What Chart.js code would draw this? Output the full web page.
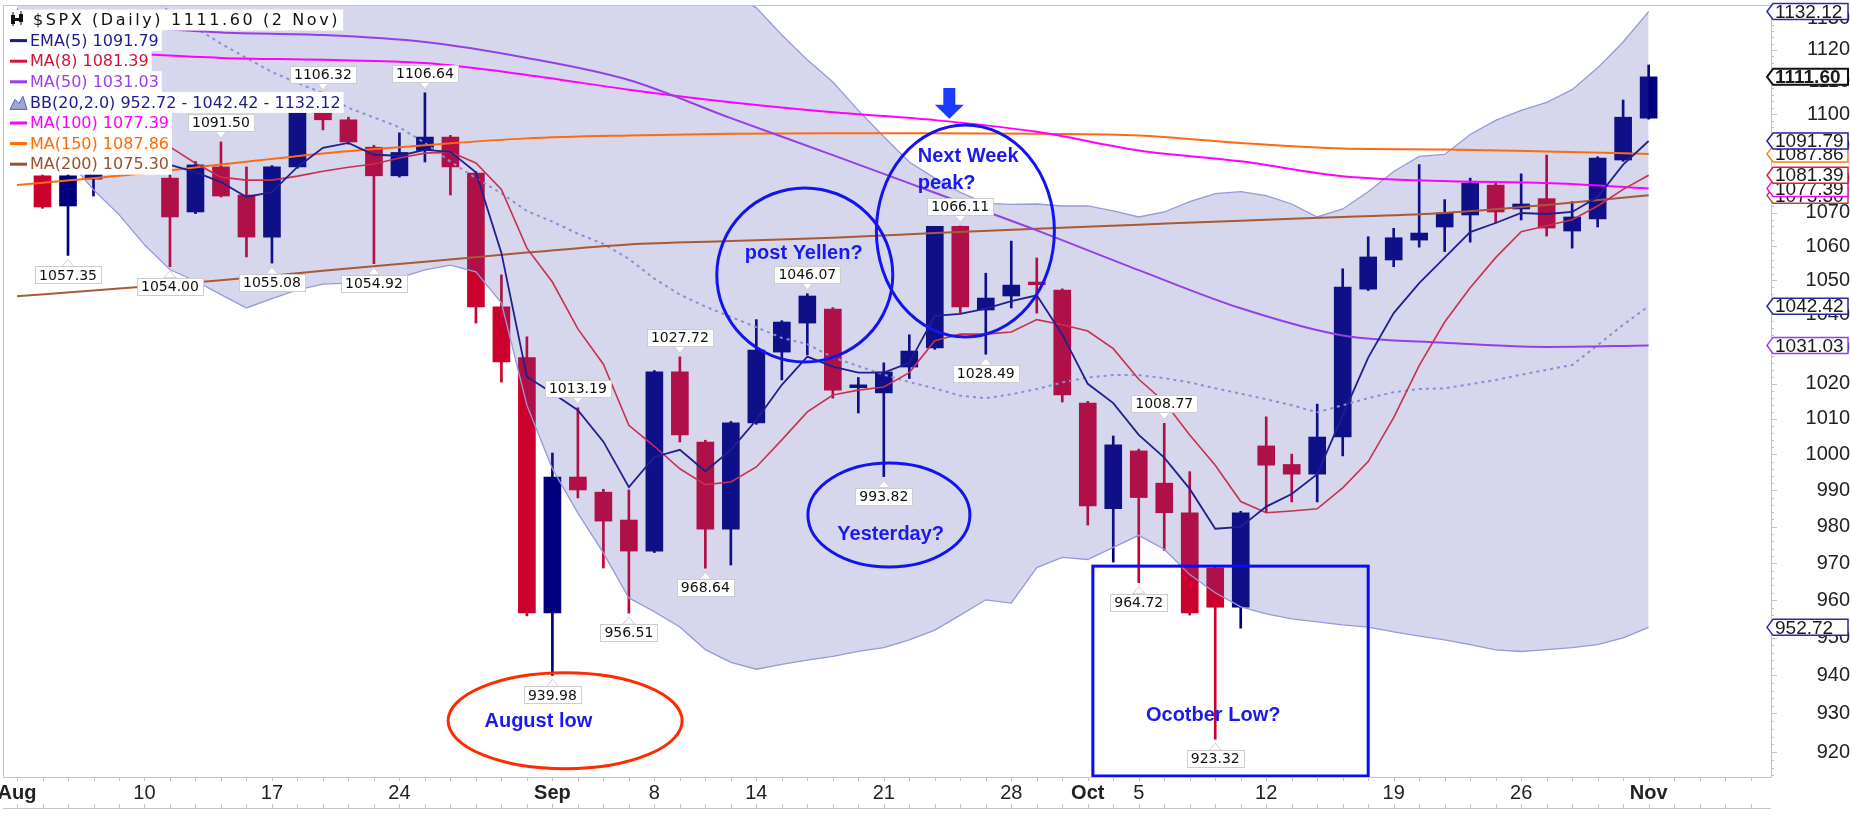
<!DOCTYPE html>
<html>
<head>
<meta charset="utf-8">
<script src="https://cdn.jsdelivr.net/npm/chart.js@4.4.1/dist/chart.umd.min.js"></script>
<style>
  html, body { margin: 0; padding: 0; background: #fff; }
  canvas { display: block; }
</style>
</head>
<body>
<canvas id="chart" width="1850" height="826"></canvas>
<script>
// --- x axis: trading day index 0 = 3 Aug ---
const tickIdx = [0, 5, 10, 15, 21, 25, 29, 34, 39, 42, 44, 49, 54, 59, 64];
const tickLbl = ['Aug', '10', '17', '24', 'Sep', '8', '14', '21', '28', 'Oct', '5', '12', '19', '26', 'Nov'];
const monthLbl = ['Aug', 'Sep', 'Oct', 'Nov'];
const yTicks = [920, 930, 940, 950, 960, 970, 980, 990, 1000, 1010, 1020, 1030, 1040, 1050, 1060, 1070, 1080, 1090, 1100, 1110, 1120, 1130];

// --- daily candles ---
const open = [1090, 1081.2, 1072.1, 1080.2, 1086, 1091, 1080.5, 1070.3, 1083.9, 1075.4,
  1062.8, 1083.9, 1100.5, 1098.3, 1089.9, 1081.2, 1088.9, 1093.0, 1082.0, 1042.2,
  1027.5, 956.6, 993.7, 989.5, 981.8, 973.3, 1023.4, 1003.5, 979.3, 1008.9,
  1029.1, 1037.5, 1041.6, 1018.9, 1017.4, 1024.8, 1030.3, 1066.0, 1041.3, 1045.4,
  1049.5, 1047.1, 1014.5, 984.9, 1001.0, 992.0, 983.8, 968.7, 958.1, 1002.4,
  997.2, 994.5, 1004.9, 1047.4, 1056.0, 1061.9, 1065.8, 1069.4, 1078.4, 1071.2,
  1074.3, 1064.6, 1068.2, 1086.0, 1098.8];
const high = [1093, 1084, 1083, 1083, 1092, 1094, 1083, 1085.5, 1091.50, 1083.9,
  1084.3, 1102, 1106.32, 1099.1, 1090.5, 1094.3, 1106.64, 1093.5, 1082.5, 1051.6,
  1033.5, 1000.4, 1013.19, 990.3, 990.1, 1023.8, 1027.72, 1004, 1009.3, 1038.5,
  1038.2, 1046.07, 1042, 1021.8, 1026.0, 1034.1, 1066.0, 1066.11, 1052.1, 1061.6,
  1056.6, 1047.5, 1015, 1005.2, 1001.5, 1008.77, 995.2, 969, 984.2, 1010.6,
  1000.1, 1014.2, 1053.4, 1062.9, 1065.4, 1084.6, 1074.0, 1080.5, 1079, 1081.8,
  1087.5, 1073.4, 1087, 1104.4, 1115.3];
const low = [1085, 1071.4, 1057.35, 1075.1, 1084, 1086, 1054.00, 1069.8, 1074.8, 1056.9,
  1055.08, 1083.5, 1095.2, 1090.8, 1054.92, 1080.8, 1085.4, 1075.4, 1037.5, 1020.5,
  955.8, 939.98, 987.9, 968.7, 956.51, 972.9, 1003.5, 968.64, 969.5, 1008.5,
  1021.1, 1028.3, 1015.9, 1011.7, 993.82, 1021.5, 1029.9, 1040.4, 1028.49, 1041.9,
  1040.4, 1014.8, 980.4, 970.3, 964.72, 973.5, 956.0, 923.32, 952.5, 983.8,
  986.8, 986.8, 999.6, 1047, 1054.0, 1059.8, 1058.5, 1061.3, 1067.0, 1067.9,
  1063.1, 1059.5, 1065.8, 1085.6, 1098.5];
const close = [1087, 1071.8, 1081.2, 1082.5, 1090, 1088, 1068.8, 1084.5, 1075.1, 1062.8,
  1083.9, 1100.5, 1098.3, 1091.5, 1081.2, 1088.3, 1093.0, 1083.9, 1042.2, 1026.3,
  956.6, 993.7, 990.1, 981.5, 973.3, 1023.4, 1005.5, 979.3, 1008.9, 1029.7,
  1037.8, 1045.4, 1018.2, 1019.7, 1023.4, 1029.4, 1066.0, 1042.2, 1044.8, 1048.6,
  1048.7, 1016.8, 985.7, 1002.7, 988.0, 983.8, 956.6, 958.1, 983.8, 997.0,
  994.5, 1004.9, 1048.0, 1056.9, 1062.6, 1064.0, 1070.0, 1079.0, 1070.3, 1072.7,
  1065.5, 1068.8, 1086.6, 1099.1, 1111.60];

// --- daily indicators ---
const ema5 = [1086, 1084.5, 1083.5, 1083, 1085, 1086, 1084.5, 1082.3, 1079.3, 1074.8,
  1076.3, 1083.9, 1089.7, 1091.2, 1087.6, 1087.3, 1089.1, 1088.5, 1082.3, 1058.1,
  1022.0, 1017.4, 1012.5, 1003.6, 990.9, 999.3, 1001.3, 995.3, 1001.3, 1009.7,
  1019.7, 1027.8, 1024.9, 1023.2, 1023.2, 1026.0, 1039.6, 1040.2, 1041.7, 1043.9,
  1045.6, 1034.2, 1020.0, 1014.5, 1005.5, 999.1, 990.4, 979.4, 979.9, 985.5,
  989.0, 994.5, 1011.0, 1027.5, 1040.4, 1049.2, 1056.7, 1064.3, 1067.0, 1070.0,
  1069.7, 1070.3, 1074.8, 1084.6, 1091.79];
const ma8 = [1133, 1120, 1110, 1102, 1097, 1094, 1090, 1085, 1080.8, 1079.9,
  1079.9, 1081.1, 1082.6, 1083.8, 1084.8, 1086.6, 1088.1, 1088.4, 1085.1, 1077.1,
  1059.5, 1049.5, 1035.8, 1025.6, 1008.2, 1002.3, 996.0, 991.6, 992.3, 996.5,
  1004.1, 1012.0, 1016.8, 1018.2, 1019.1, 1023.2, 1032.4, 1034.3, 1034.3, 1034.9,
  1038.5, 1037.0, 1035.2, 1030.1, 1021.3, 1014.9, 1005.5, 997.0, 986.9, 983.8,
  984.3, 984.9, 990.7, 998.0, 1010.4, 1025.2, 1037.8, 1047.8, 1056.7, 1064.4,
  1066.2, 1068.0, 1072.1, 1077.1, 1081.39];
const bbUp = [1175, 1180, 1185, 1190, 1195, 1200, 1205, 1200, 1195, 1190,
  1185, 1178, 1172, 1166, 1160, 1155, 1152, 1150, 1149, 1148,
  1147, 1147, 1146, 1146, 1145, 1144, 1143, 1141, 1138, 1133.3,
  1124.7, 1116.9, 1110.0, 1101.2, 1093.1, 1085.4, 1080.5, 1076.2, 1072.9, 1072.6,
  1072.7, 1072.1, 1072.1, 1070.6, 1068.8, 1070.3, 1073.4, 1075.8, 1076.4, 1075.2,
  1072.7, 1068.8, 1071.2, 1076.4, 1082.5, 1087.1, 1087.7, 1093.8, 1098.1, 1101.2,
  1103.7, 1107.6, 1114.4, 1122.5, 1132.12];
const bbMid = [1152, 1150, 1148, 1145, 1142, 1138, 1132, 1127, 1122, 1117.5,
  1113.1, 1109.7, 1106.6, 1102.0, 1099.0, 1096.0, 1091.2, 1085.5, 1080.5, 1075.9,
  1070.6, 1067.4, 1063.8, 1060.8, 1056.3, 1050.5, 1045.8, 1042.3, 1039.3, 1036.3,
  1033.2, 1031.4, 1027.6, 1025.1, 1022.6, 1020.5, 1018.7, 1016.6, 1015.9, 1017.0,
  1018.5, 1020.4, 1021.8, 1022.5, 1022.5, 1021.6, 1020.4, 1018.7, 1017.2, 1015.6,
  1013.9, 1011.9, 1013.9, 1015.9, 1017.6, 1018.5, 1018.7, 1019.9, 1021.1, 1022.6,
  1024.0, 1025.4, 1031.1, 1037.0, 1042.42];
const bbLow = [1100, 1093, 1086, 1077, 1069.5, 1060.5, 1053.1, 1049.8, 1045.8, 1041.9,
  1044.6, 1047.2, 1048.9, 1049.2, 1049.2, 1050.7, 1053.1, 1054.5, 1052.5, 1043.4,
  1013.9, 996.0, 983.7, 972.8, 960.6, 956.9, 952.8, 946.8, 943.4, 941.6,
  942.9, 944.0, 945.0, 946.3, 947.3, 949.4, 952.0, 956.0, 960.1, 959.2,
  968.8, 971.6, 971.0, 974.3, 977.6, 973.8, 966.9, 962.0, 958.2, 956.3,
  955.0, 954.2, 953.4, 952.8, 951.5, 950.4, 949.4, 948.1, 946.7, 946.3,
  946.8, 947.3, 948.1, 949.9, 952.72];

// --- slow averages, read every 4 days ---
const maDays = [0, 4, 8, 12, 16, 20, 24, 28, 32, 36, 40, 44, 48, 52, 56, 60, 64];
const ma50 = [1130, 1127.5, 1125.5, 1124.7, 1122.5, 1117.5, 1110.6, 1098.8, 1087.5, 1076.1, 1064.8, 1053.0, 1041.8, 1033.9, 1031.8, 1030.6, 1031.03];
const ma100 = [1120.5, 1119, 1117.5, 1116.9, 1115.9, 1112.2, 1107.6, 1103.7, 1100.6, 1098.2, 1094.6, 1088.9, 1085.6, 1081.1, 1079.6, 1079.0, 1077.39];
const ma150 = [1078.4, 1081.2, 1084.6, 1088.0, 1090.5, 1092.6, 1093.5, 1094.0, 1094.2, 1094.2, 1094.0, 1093.5, 1091.2, 1089.5, 1089.2, 1088.6, 1087.86];
const ma200 = [1045.3, 1047.6, 1050.0, 1052.8, 1055.5, 1058.2, 1060.6, 1061.6, 1062.6, 1064.0, 1065.3, 1066.5, 1067.7, 1068.8, 1070.0, 1072.4, 1075.3];

// candles that carry a high / low value box
const hiLoIdx = [2, 6, 8, 10, 12, 14, 16, 21, 22, 24, 26, 27, 31, 34, 37, 38, 44, 45, 47];
const hiLoSide = ['l', 'l', 'h', 'l', 'h', 'l', 'h', 'l', 'h', 'l', 'h', 'l', 'h', 'l', 'h', 'l', 'l', 'h', 'l'];

// hand drawn notes, placed in (day, price)
const noteShapes = [
  { i: 21.5, v: 928.1, rx: 117, ry: 48, color: '#ff2a00' },
  { i: 30.9, v: 1051.6, rx: 88, ry: 87, color: '#1414ee' },
  { i: 37.2, v: 1064.6, rx: 89, ry: 106, color: '#1414ee' },
  { i: 34.2, v: 983.2, rx: 81, ry: 52, color: '#1414ee' }
];
const noteText = [
  { t: 'August low', i: 20.45, v: 927.9, align: 'center' },
  { t: 'post Yellen?', i: 30.86, v: 1057.8, align: 'center' },
  { t: 'Next Week', i: 35.33, v: 1087.2, align: 'left' },
  { t: 'peak?', i: 35.33, v: 1079.0, align: 'left' },
  { t: 'Yesterday?', i: 34.27, v: 977.7, align: 'center' },
  { t: 'Ocotber Low?', i: 46.92, v: 929.6, align: 'center' }
];
const noteRect = { i0: 42.2, i1: 53.0, v: 969.2 };
const noteArrow = { i: 36.57, top: 1108.1, tip: 1098.6 };

const NAVY = '#00007f';
const RED = '#cc002c';
const last = a => a[a.length - 1];
const daily = a => a.map((v, i) => ({ x: i, y: v }));
const sparse = a => a.map((v, k) => ({ x: maDays[k], y: v }));
const candleCol = close.map((c, i) => c >= open[i] ? NAVY : RED);

const lineDs = (label, data, color, width, order, extra) => Object.assign({
  type: 'line', label, data, borderColor: color, borderWidth: width,
  pointRadius: 0, fill: false, order
}, extra || {});

const deco = {
  id: 'deco',
  beforeDraw(c) {
    const g = c.ctx;
    g.save();
    g.fillStyle = '#fff';
    g.fillRect(0, 0, c.width, c.height);
    g.restore();
  },
  afterDatasetsDraw(c) {
    const g = c.ctx, a = c.chartArea;
    const X = i => c.scales.x.getPixelForValue(i);
    const Y = v => c.scales.y.getPixelForValue(v);
    g.save();
    g.beginPath();
    g.rect(a.left, a.top, a.right - a.left, a.bottom - a.top);
    g.clip();

    // notes
    g.lineWidth = 3;
    noteShapes.forEach(s => {
      g.strokeStyle = s.color;
      g.beginPath();
      g.ellipse(X(s.i), Y(s.v), s.rx, s.ry, 0, 0, Math.PI * 2);
      g.stroke();
    });
    g.strokeStyle = '#0a0aff';
    g.strokeRect(X(noteRect.i0), Y(noteRect.v), X(noteRect.i1) - X(noteRect.i0), a.bottom - Y(noteRect.v) - 1);

    const ax = X(noteArrow.i), at = Y(noteArrow.top), ap = Y(noteArrow.tip);
    g.fillStyle = '#1a3cff';
    g.beginPath();
    g.moveTo(ax - 6, at); g.lineTo(ax + 6, at); g.lineTo(ax + 6, ap - 14);
    g.lineTo(ax + 14.5, ap - 14); g.lineTo(ax, ap); g.lineTo(ax - 14.5, ap - 14);
    g.lineTo(ax - 6, ap - 14); g.closePath();
    g.fill();

    g.font = 'bold 20px "Liberation Sans"';
    g.fillStyle = '#1a1aee';
    g.textBaseline = 'middle';
    noteText.forEach(n => {
      g.textAlign = n.align;
      g.fillText(n.t, X(n.i), Y(n.v));
    });

    // high / low value boxes
    g.font = '14px "DejaVu Sans"';
    g.textAlign = 'center';
    hiLoIdx.forEach((i, k) => {
      const isHigh = hiLoSide[k] === 'h';
      const val = isHigh ? high[i] : low[i];
      const txt = val.toFixed(2);
      const x = X(i), y = Y(val);
      const w = Math.round(g.measureText(txt).width + 8), h = 17;
      const tip = isHigh ? y - 4 : y + 4;
      const base = isHigh ? tip - 7 : tip + 7;
      const by = isHigh ? base - h : base;
      g.fillStyle = '#fff';
      g.strokeStyle = '#cdcdcd';
      g.lineWidth = 1;
      g.beginPath();
      g.moveTo(x - 6, base); g.lineTo(x, tip); g.lineTo(x + 6, base); g.closePath();
      g.fill(); g.stroke();
      g.fillRect(Math.round(x - w / 2) + 0.5, Math.round(by) + 0.5, w, h);
      g.strokeRect(Math.round(x - w / 2) + 0.5, Math.round(by) + 0.5, w, h);
      g.fillStyle = '#111';
      g.fillText(txt, x, by + h / 2 + 1);
    });
    g.restore();
  },
  afterDraw(c) {
    const g = c.ctx, a = c.chartArea;
    const X = i => c.scales.x.getPixelForValue(i);
    const Y = v => c.scales.y.getPixelForValue(v);
    g.save();

    // frame, day ticks and price ticks
    g.strokeStyle = '#c4c4c4';
    g.lineWidth = 1;
    g.strokeRect(a.left + 0.5, a.top + 0.5, a.right - a.left, a.bottom - a.top);
    g.beginPath();
    g.moveTo(a.left, 808.5); g.lineTo(a.right, 808.5);
    for (let i = 0; i <= 68; i++) {
      const x = Math.round(X(i)) + 0.5;
      g.moveTo(x, a.bottom); g.lineTo(x, a.bottom + 4);
      g.moveTo(x, 804); g.lineTo(x, 808);
    }
    for (let v = 914; v <= 1134; v += 2) {
      const y = Math.round(Y(v)) + 0.5;
      g.moveTo(a.right, y); g.lineTo(a.right + (v % 10 === 0 ? 6 : 3), y);
    }
    g.stroke();

    // value tags on the price axis
    const tags = [
      [last(ma200), '#a0522d'], [last(ma100), '#ff00ff'], [last(ma150), '#ff7a1a'],
      [last(ma8), '#e01e36'], [last(ema5), '#22229a'], [last(bbMid), '#2a2aa8'],
      [last(ma50), '#9a3ff0'], [last(bbLow), '#2a2aa8'], [last(bbUp), '#2a2aa8'],
      [last(close), '#111', true]
    ];
    const tx = a.right - 4, tr = 1848;
    g.textAlign = 'left';
    g.textBaseline = 'middle';
    tags.forEach(([v, col, bold]) => {
      const y = Y(v);
      g.beginPath();
      g.moveTo(tx, y); g.lineTo(tx + 6, y - 8); g.lineTo(tr, y - 8);
      g.lineTo(tr, y + 8); g.lineTo(tx + 6, y + 8); g.closePath();
      g.fillStyle = '#fff'; g.fill();
      g.strokeStyle = col; g.lineWidth = bold ? 2 : 1.5; g.stroke();
      g.fillStyle = '#1a1a1a';
      g.font = (bold ? 'bold ' : '') + '19px "Liberation Sans"';
      g.fillText(v.toFixed(2), tx + 8, y + 1);
    });

    // legend block
    const rows = [
      { t: '$SPX (Daily) ' + last(close).toFixed(2) + ' (2 Nov)', c: '#111', icon: 'candle' },
      { t: 'EMA(5) ' + last(ema5).toFixed(2), c: '#1c1c8e' },
      { t: 'MA(8) ' + last(ma8).toFixed(2), c: '#d0143c' },
      { t: 'MA(50) ' + last(ma50).toFixed(2), c: '#9a3ff0' },
      { t: 'BB(20,2.0) ' + last(bbLow).toFixed(2) + ' - ' + last(bbMid).toFixed(2) + ' - ' + last(bbUp).toFixed(2), c: '#1c1c8e', icon: 'band' },
      { t: 'MA(100) ' + last(ma100).toFixed(2), c: '#ff00ff' },
      { t: 'MA(150) ' + last(ma150).toFixed(2), c: '#ff6a00' },
      { t: 'MA(200) ' + last(ma200).toFixed(2), c: '#9c5030' }
    ];
    rows.forEach((r, k) => {
      const cy = 20 + k * 20.6;
      const tx0 = k === 0 ? 33 : 30;
      g.font = '16px "DejaVu Sans"';
      g.letterSpacing = k === 0 ? '2.6px' : '0px';
      const w = g.measureText(r.t).width;
      g.fillStyle = '#fff';
      g.fillRect(8, cy - 10.5, tx0 + w - 5, 21);
      if (r.icon === 'candle') {
        g.fillStyle = '#111';
        g.fillRect(11, 15, 4, 9); g.fillRect(12.5, 12, 1, 14);
        g.fillRect(19, 14, 4, 8); g.fillRect(20.5, 11, 1, 14);
        g.fillRect(15, 18, 4, 3);
      } else if (r.icon === 'band') {
        g.beginPath();
        g.moveTo(10, cy + 7); g.lineTo(15, cy - 3); g.lineTo(19, cy + 1);
        g.lineTo(23, cy - 6); g.lineTo(27, cy + 7); g.closePath();
        g.fillStyle = '#9ea2da'; g.fill();
        g.strokeStyle = '#5a5fb8'; g.lineWidth = 1; g.stroke();
      } else {
        g.fillStyle = r.c;
        g.fillRect(10, cy - 1.5, 17, 3);
      }
      g.fillStyle = r.c;
      g.textBaseline = 'middle';
      g.fillText(r.t, tx0, cy + 1);
    });
    g.letterSpacing = '0px';
    g.restore();
  }
};

Chart.defaults.font.family = '"Liberation Sans", Arial, sans-serif';

new Chart(document.getElementById('chart').getContext('2d'), {
  type: 'bar',
  data: {
    datasets: [
      lineDs('EMA(5)', daily(ema5), '#1f1f90', 1.8, 0),
      lineDs('MA(8)', daily(ma8), '#c8304e', 1.6, 1),
      lineDs('MA(50)', sparse(ma50), '#9440e6', 2, 2, { cubicInterpolationMode: 'monotone' }),
      lineDs('MA(100)', sparse(ma100), '#ff00ff', 2, 3, { cubicInterpolationMode: 'monotone' }),
      lineDs('MA(150)', sparse(ma150), '#ff6a10', 2, 4, { cubicInterpolationMode: 'monotone' }),
      lineDs('MA(200)', sparse(ma200), '#a85a35', 2, 5, { cubicInterpolationMode: 'monotone' }),
      lineDs('BB mid', daily(bbMid), '#8a8ed8', 2, 6, { borderDash: [3, 4] }),
      lineDs('BB low', daily(bbLow), '#959ad8', 1.3, 7),
      lineDs('BB up', daily(bbUp), '#959ad8', 1.3, 8, { fill: 7, backgroundColor: 'rgba(70, 75, 170, 0.22)' }),
      {
        type: 'bar', label: 'body', order: 9, grouped: false, barThickness: 17, minBarLength: 2,
        data: open.map((o, i) => ({ x: i, y: [o, close[i]] })),
        backgroundColor: candleCol, borderWidth: 0
      },
      {
        type: 'bar', label: 'wick', order: 10, grouped: false, barThickness: 2,
        data: low.map((l, i) => ({ x: i, y: [l, high[i]] })),
        backgroundColor: candleCol, borderWidth: 0
      }
    ]
  },
  options: {
    responsive: false,
    animation: false,
    devicePixelRatio: 1,
    events: [],
    layout: { padding: { left: 3, top: 5, right: 0, bottom: 0 } },
    plugins: { legend: { display: false }, tooltip: { enabled: false } },
    scales: {
      x: {
        type: 'linear', min: -0.55, max: 68.8, bounds: 'data', offset: false,
        grid: { display: false, drawTicks: false }, border: { display: false },
        afterBuildTicks: s => { s.ticks = tickIdx.map(v => ({ value: v })); },
        afterFit: s => { s.height = 49; s.paddingLeft = 0; s.paddingRight = 0; },
        ticks: {
          autoSkip: false, maxRotation: 0, padding: 4, color: '#222',
          callback: v => tickLbl[tickIdx.indexOf(v)],
          font: ctx => ({
            family: '"Liberation Sans", Arial, sans-serif', size: 20,
            weight: ctx.tick && monthLbl.includes(tickLbl[tickIdx.indexOf(ctx.tick.value)]) ? 'bold' : 'normal'
          })
        }
      },
      y: {
        type: 'logarithmic', position: 'right', min: 913.6, max: 1134.2, bounds: 'data',
        grid: { display: false, drawTicks: false }, border: { display: false },
        afterBuildTicks: s => { s.ticks = yTicks.map(v => ({ value: v })); },
        afterFit: s => { s.width = 79; s.paddingTop = 0; s.paddingBottom = 0; },
        ticks: {
          autoSkip: false, crossAlign: 'far', padding: 7, color: '#222',
          font: { size: 20 },
          callback: v => String(v)
        }
      }
    }
  },
  plugins: [deco]
});
</script>
</body>
</html>
